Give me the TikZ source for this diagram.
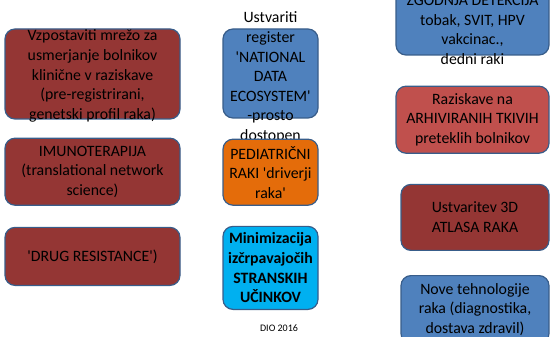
\documentclass[tikz,border=0pt]{standalone}
\usepackage{fontspec}
\setmainfont{Carlito}[Ligatures=TeXOff]
\usetikzlibrary{positioning}
\definecolor{darkred}{HTML}{943634}
\definecolor{lightred}{HTML}{C0504D}
\definecolor{steelblue}{HTML}{4F81BD}
\definecolor{edgeblue}{HTML}{385D8A}
\definecolor{pumpkin}{HTML}{E46C0A}
\definecolor{skyblue}{HTML}{00B0F0}

\begin{document}
\begin{tikzpicture}[
  x=1pt, y=-1pt,
  box/.style={draw=edgeblue, line width=1.2pt, rounded corners=10pt, fill=#1, inner sep=0pt, align=center, font=\fontsize{15.8}{19.6}\selectfont},
  txt/.style={inner sep=0pt, align=center, font=\fontsize{15.8}{19.6}\selectfont},
]
  \clip (0,0) rectangle (550,337);

  % left column
  \node[box=darkred, minimum width=175pt, minimum height=90pt] (net) at (92.5,74) {};
  \node[txt] (nettext) at ([yshift=-2pt]net.center) {Vzpostaviti mrežo za\\usmerjanje bolnikov\\klinične v raziskave\\(pre-registrirani,\\genetski profil raka)};
  \node[box=darkred, minimum width=175pt, minimum height=67pt, below=18pt of net] (imuno) {IMUNOTERAPIJA\\(translational network\\science)};
  \node[box=darkred, minimum width=175pt, minimum height=58pt, below=21pt of imuno] (drug) {'DRUG RESISTANCE')};

  % middle column
  \node[box=steelblue, minimum width=95pt, minimum height=89pt] (reg) at (270.5,73.5) {};
  \node[txt] (regtext) at ([yshift=-4pt]reg.center) {Ustvariti\\register\\'NATIONAL\\DATA\\ECOSYSTEM'\\-prosto\\dostopen};
  \node[box=pumpkin, minimum width=95pt, minimum height=66pt, below=20pt of reg] (pedia) {PEDIATRIČNI\\RAKI 'driverji\\raka'};
  \node[box=skyblue, minimum width=95pt, minimum height=83pt, below=20pt of pedia, font=\fontsize{15.8}{19.6}\selectfont\bfseries] (mini) {Minimizacija\\izčrpavajočih\\STRANSKIH\\UČINKOV};
  \node[font=\fontsize{10}{12}\selectfont, inner sep=0pt] (dio) at (279,328) {DIO 2016};

  % right column
  \node[box=steelblue, minimum width=153pt, minimum height=67pt] (zgod) at (472.5,21.5) {};
  \node[txt] (zgodtext) at (472.5,30) {ZGODNJA DETEKCIJA\\tobak, SVIT, HPV\\vakcinac.,\\dedni raki};
  \node[box=lightred, minimum width=153pt, minimum height=67pt, below=30pt of zgod] (arh) {Raziskave na\\ARHIVIRANIH TKIVIH\\preteklih bolnikov};
  \node[box=darkred, minimum width=148pt, minimum height=66pt, below=30pt of arh, xshift=2.5pt] (atlas) {Ustvaritev 3D\\ATLASA RAKA};
  \node[box=steelblue, minimum width=148pt, minimum height=68pt, below=24pt of atlas] (nove) {Nove tehnologije\\raka (diagnostika,\\dostava zdravil)};
\end{tikzpicture}
\end{document}
